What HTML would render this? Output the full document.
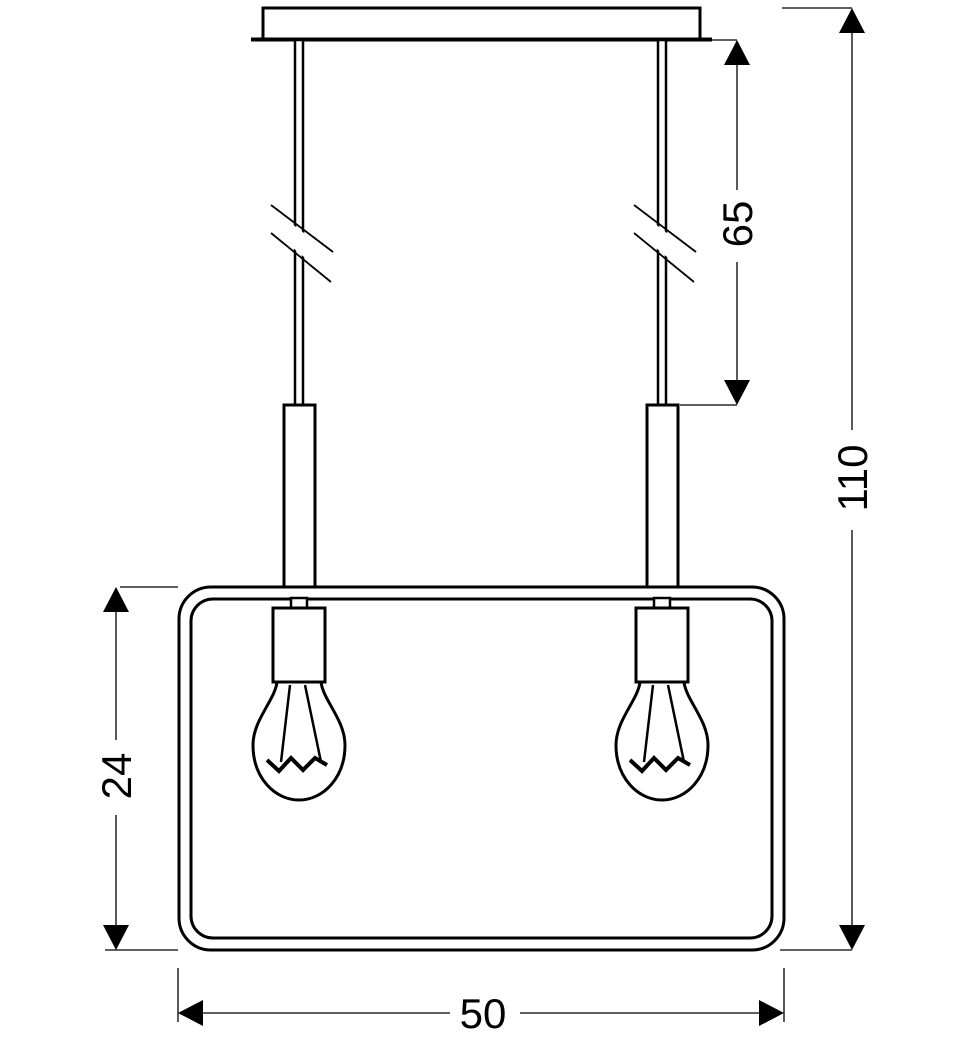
<!DOCTYPE html>
<html><head><style>body{margin:0;background:#fff}svg{display:block}</style></head><body>
<svg width="970" height="1038" viewBox="0 0 970 1038" xmlns="http://www.w3.org/2000/svg">
<defs>
<g id="bulb">
 <rect x="-8" y="598" width="16" height="10" fill="#fff" stroke="#000" stroke-width="2.5"/>
 <rect x="-26" y="608" width="52" height="74" fill="#fff" stroke="#000" stroke-width="3"/>
 <path d="M-22 682 C-24 700 -46 720 -46 745 C-46 778 -24 800 0 800 C24 800 46 778 46 745 C46 720 24 700 22 682" fill="none" stroke="#000" stroke-width="3"/>
 <path d="M-9 685 L-18 762 M6 685 L22 762" stroke="#000" stroke-width="2.5" fill="none"/>
 <path d="M-32 760 L-20 771 L-8 758 L4 770 L16 758 L28 765" stroke="#000" stroke-width="4" fill="none"/>
</g>
<g id="cord">
 <rect x="-4" y="40" width="8" height="365" fill="#fff" stroke="#000" stroke-width="2.5"/>
 <polygon points="-28,208 34,255 32,279 -28,230" fill="#fff"/>
 <line x1="-28" y1="205" x2="34" y2="252" stroke="#000" stroke-width="1.8"/>
 <line x1="-28" y1="233" x2="32" y2="282" stroke="#000" stroke-width="1.8"/>
 <rect x="-15" y="405" width="31" height="182" fill="#fff" stroke="#000" stroke-width="3"/>
</g>
</defs>
<rect x="263" y="8" width="437" height="31" fill="#fff" stroke="#000" stroke-width="3"/>
<line x1="251" y1="39.5" x2="712" y2="39.5" stroke="#000" stroke-width="4"/>
<use href="#cord" x="299"/>
<use href="#cord" x="662"/>
<rect x="179" y="587" width="605" height="363" rx="32" fill="none" stroke="#000" stroke-width="3"/>
<rect x="191" y="599" width="581" height="339" rx="22" fill="none" stroke="#000" stroke-width="3"/>
<use href="#bulb" x="299"/>
<use href="#bulb" x="662"/>
<g stroke="#000" stroke-width="1.3" fill="none">
 <line x1="712" y1="40" x2="737" y2="40"/><line x1="680" y1="405" x2="737" y2="405"/>
 <line x1="737" y1="60" x2="737" y2="190"/><line x1="737" y1="262" x2="737" y2="385"/>
 <line x1="782" y1="8" x2="852" y2="8"/><line x1="780" y1="950" x2="852" y2="950"/>
 <line x1="852" y1="28" x2="852" y2="430"/><line x1="852" y1="530" x2="852" y2="930"/>
 <line x1="120" y1="587" x2="178" y2="587"/><line x1="105" y1="950" x2="178" y2="950"/>
 <line x1="116" y1="607" x2="116" y2="740"/><line x1="116" y1="815" x2="116" y2="930"/>
 <line x1="178" y1="968" x2="178" y2="1022"/><line x1="784" y1="968" x2="784" y2="1022"/>
 <line x1="198" y1="1013" x2="450" y2="1013"/><line x1="520" y1="1013" x2="764" y2="1013"/>
</g>
<g fill="#000">
 <polygon points="737,40 724,65 750,65"/><polygon points="737,405 724,380 750,380"/>
 <polygon points="852,8 839,33 865,33"/><polygon points="852,950 839,925 865,925"/>
 <polygon points="116,587 103,612 129,612"/><polygon points="116,950 103,925 129,925"/>
 <polygon points="178,1013 203,1000 203,1026"/><polygon points="784,1013 759,1000 759,1026"/>
</g>
<g font-family="Liberation Sans, sans-serif" font-size="42" fill="#000" text-anchor="middle">
 <text transform="translate(752,224) rotate(-90)">65</text>
 <text transform="translate(867,478) rotate(-90)">110</text>
 <text transform="translate(131,776) rotate(-90)">24</text>
 <text x="483" y="1028">50</text>
</g>
</svg>
</body></html>
